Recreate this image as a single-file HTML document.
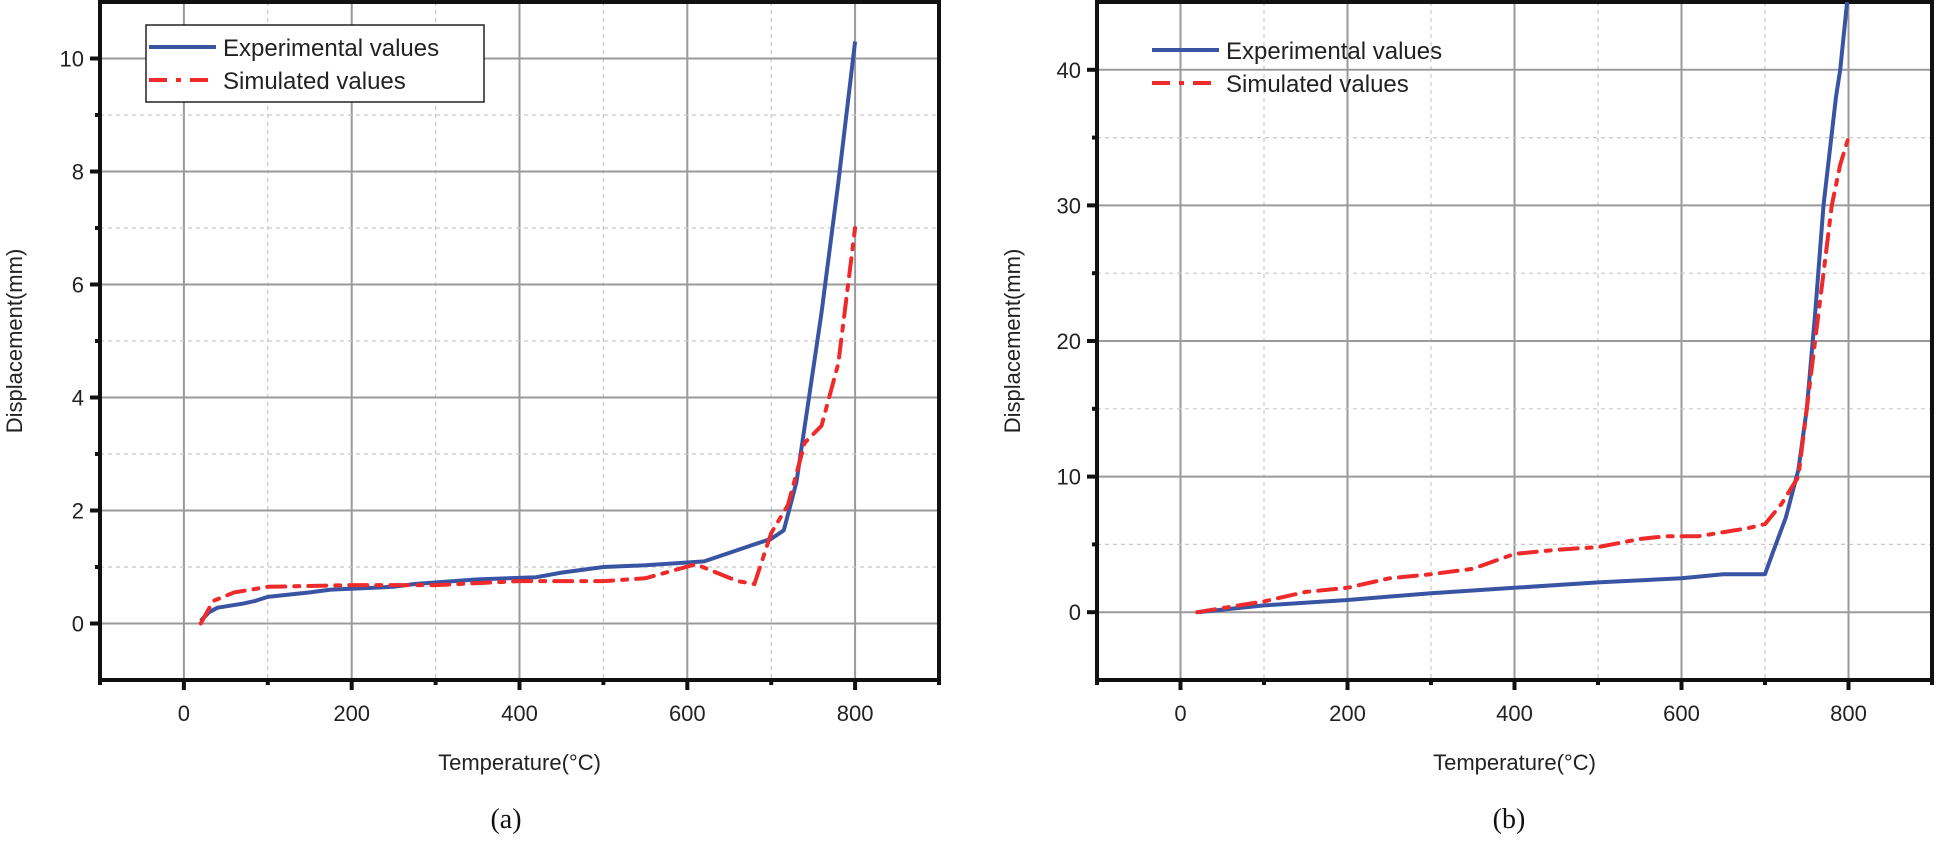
<!DOCTYPE html>
<html><head><meta charset="utf-8"><style>
html,body{margin:0;padding:0;background:#fff;}
svg{display:block;font-family:"Liberation Sans",sans-serif;}
</style></head><body>
<svg id="c" width="1937" height="850" viewBox="0 0 1937 850"></svg>
<script>
const aTemp=[20,30,40,70,85,100,150,175,250,275,350,420,450,500,550,600,620,650,680,700,715,730,745,760,780,800];
const aExp=[0.05,0.2,0.28,0.35,0.4,0.47,0.55,0.6,0.65,0.7,0.78,0.82,0.9,1.0,1.03,1.08,1.1,1.25,1.4,1.5,1.65,2.5,4,5.5,7.8,10.3];
const aSimT=[20,35,60,100,200,300,400,500,550,610,660,680,700,720,740,760,780,800];
const aSim=[0,0.4,0.55,0.65,0.68,0.68,0.75,0.75,0.8,1.05,0.75,0.7,1.6,2.1,3.2,3.5,4.6,7.0];
const bTemp=[20,100,200,300,400,500,600,650,700,710,725,740,750,760,770,785,790,800];
const bExp=[0,0.5,0.9,1.4,1.8,2.2,2.5,2.8,2.8,4.5,7,10.5,15,22,30,38,40,46];
const bSimT=[20,100,150,200,250,300,350,400,450,500,550,580,620,680,700,720,740,750,760,770,780,790,800];
const bSim=[0,0.8,1.5,1.8,2.5,2.8,3.2,4.3,4.6,4.8,5.4,5.6,5.6,6.2,6.5,8,10,15,20,25,30,33,35];
const xTicks=[0,200,400,600,800];
const aYTicks=[0,2,4,6,8,10];
const bYTicks=[0,10,20,30,40];

const NS="http://www.w3.org/2000/svg";
const svg=document.getElementById('c');
function mk(t,at,p){const e=document.createElementNS(NS,t);for(const k in at)e.setAttribute(k,at[k]);(p||svg).appendChild(e);return e;}

function panel(cfg){
  const g=mk('g',{});
  
  
  const X=v=>cfg.x0+(v-cfg.xmin)/(cfg.xmax-cfg.xmin)*(cfg.x1-cfg.x0);
  const Y=v=>cfg.y0-(v-cfg.ymin)/(cfg.ymax-cfg.ymin)*(cfg.y0-cfg.y1);
  for(let v=-100;v<=900;v+=100){if(v===-100||v===900)continue;const major=v%200===0;
    const l=mk('line',{x1:X(v),x2:X(v),y1:cfg.y1,y2:cfg.y0,stroke:major?'#9a9a9a':'#c8c8c8','stroke-width':major?2:1.2,'stroke-dasharray':major?'none':'4 4'},g);
    }
  for(let v=cfg.ymin+cfg.ystep/2;v<cfg.ymax;v+=cfg.ystep/2){const major=Math.abs(v/cfg.ystep-Math.round(v/cfg.ystep))<1e-6;
    const l=mk('line',{x1:cfg.x0,x2:cfg.x1,y1:Y(v),y2:Y(v),stroke:major?'#9a9a9a':'#c8c8c8','stroke-width':major?2:1.2,'stroke-dasharray':major?'none':'4 4'},g);
    
    const t=mk('line',{x1:cfg.x0,x2:cfg.x0-(major?10:5),y1:Y(v),y2:Y(v),stroke:'#111','stroke-width':4},g);
    }
  for(let v=-100;v<=900;v+=100){const major=v%200===0;
    const t=mk('line',{x1:X(v),x2:X(v),y1:cfg.y0,y2:cfg.y0+(major?10:5),stroke:'#111','stroke-width':4},g);
    }
  const f=mk('rect',{x:cfg.x0,y:cfg.y1,width:cfg.x1-cfg.x0,height:cfg.y0-cfg.y1,fill:'none',stroke:'#111','stroke-width':4},g);
  
  xTicks.forEach(v=>{const t=mk('text',{x:X(v),y:cfg.y0+41,'font-size':22,'text-anchor':'middle',fill:'#222'},g);t.textContent=v;
    });
  cfg.yTicks.forEach(v=>{const t=mk('text',{x:cfg.x0-16,y:Y(v)+8,'font-size':22,'text-anchor':'end',fill:'#222'},g);t.textContent=v;
    });
  const xt=mk('text',{x:(X(-100)+X(900))/2,y:770,'font-size':22,'text-anchor':'middle',fill:'#222'},g);xt.textContent='Temperature(°C)';
  
  const yc=(cfg.y0+cfg.y1)/2;
  const yt=mk('text',{x:cfg.ytx,y:yc,'font-size':22,'text-anchor':'middle',fill:'#222',transform:`rotate(-90 ${cfg.ytx} ${yc})`},g);yt.textContent='Displacement(mm)';
  
  const cap=mk('text',{x:cfg.capx,y:828,'font-size':28,'text-anchor':'middle',fill:'#111','font-family':'Liberation Serif, serif'},g);cap.textContent=cfg.cap;
  
  const cid='clip'+cfg.cap.replace(/\W/g,'');
  const cp=mk('clipPath',{id:cid},g);mk('rect',{x:cfg.x0,y:cfg.y1,width:cfg.x1-cfg.x0,height:cfg.y0-cfg.y1},cp);
  const pts=(xs,ys)=>xs.map((v,i)=>X(v).toFixed(1)+','+Y(ys[i]).toFixed(1)).join(' ');
  const e=mk('polyline',{points:pts(cfg.et,cfg.ev),fill:'none',stroke:'#3a54a4','stroke-width':4,'stroke-linejoin':'round','clip-path':`url(#${cid})`},g);
  
  const s=mk('polyline',{points:pts(cfg.st,cfg.sv),fill:'none',stroke:'#ee2a2a','stroke-width':4,'stroke-dasharray':'18 9 5 9','stroke-linecap':'round','clip-path':`url(#${cid})`},g);
  
  const lg=mk('g',{},g);
  if(cfg.box){const r=mk('rect',{x:cfg.lx,y:cfg.ly,width:338,height:77,fill:'#fff',stroke:'#222','stroke-width':1.5},lg);
    }
  const l1=mk('line',{x1:cfg.lx+3,x2:cfg.lx+70,y1:cfg.ly+22,y2:cfg.ly+22,stroke:'#3a54a4','stroke-width':4},lg);
  
  const t1=mk('text',{x:cfg.lx+77,y:cfg.ly+31,'font-size':24,fill:'#222'},lg);t1.textContent='Experimental values';
  
  const l2=mk('line',{x1:cfg.lx+3,x2:cfg.lx+70,y1:cfg.ly+55,y2:cfg.ly+55,stroke:'#ee2a2a','stroke-width':4,'stroke-dasharray':'18 9 5 9'},lg);
  
  const t2=mk('text',{x:cfg.lx+77,y:cfg.ly+64,'font-size':24,fill:'#222'},lg);t2.textContent='Simulated values';
  
}
panel({name:'chart-a',x0:100,x1:939,y0:680,y1:2,xmin:-100,xmax:900,ymin:-1,ymax:11,ystep:2,yTicks:aYTicks,
  et:aTemp,ev:aExp,st:aSimT,sv:aSim,ytx:22,capx:506,cap:'(a)',lx:146,ly:25,box:true});
panel({name:'chart-b',x0:1097,x1:1932,y0:680,y1:2,xmin:-100,xmax:900,ymin:-5,ymax:45,ystep:10,yTicks:bYTicks,
  et:bTemp,ev:bExp,st:bSimT,sv:bSim,ytx:1020,capx:1509,cap:'(b)',lx:1149,ly:28,box:false});
</script>
</body></html>
